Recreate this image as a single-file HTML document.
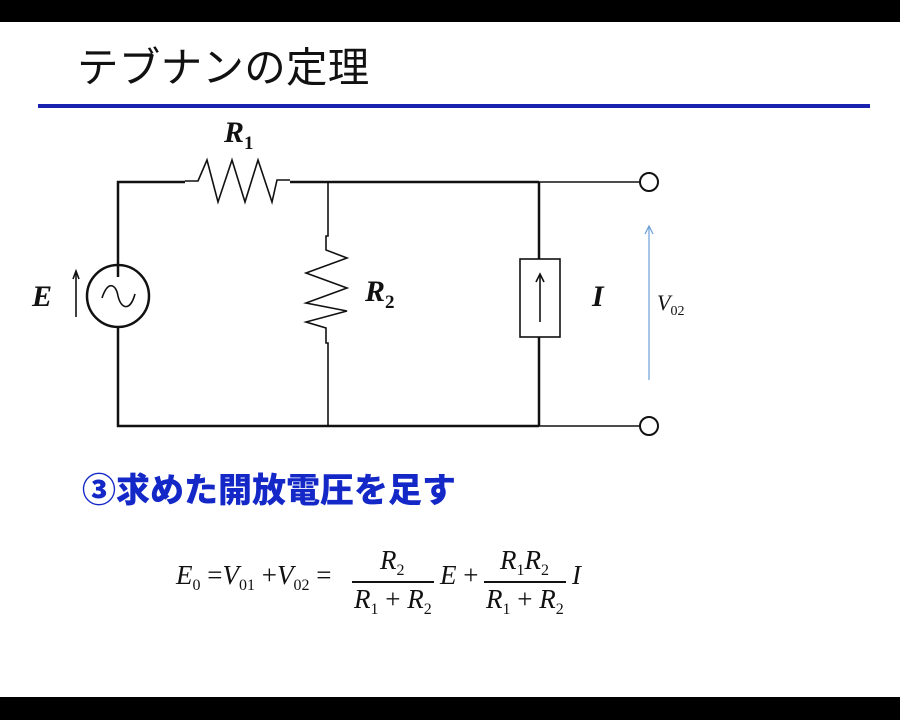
<!DOCTYPE html>
<html><head><meta charset="utf-8"><style>
body{margin:0;width:900px;height:720px;background:#fff;overflow:hidden;position:relative}
.t{position:absolute;font-family:"Liberation Serif",serif;font-style:italic;color:#111}
.s{font-size:16px;font-style:normal;vertical-align:-6px}
</style></head><body>
<div style="position:absolute;left:0;top:0;width:900px;height:22px;background:#000"></div>
<div style="position:absolute;left:0;top:697px;width:900px;height:23px;background:#000"></div>
<div style="position:absolute;left:77px;top:44px;font:41.5px 'Noto Sans CJK JP',sans-serif;color:#111;line-height:1;letter-spacing:0.3px">テブナンの定理</div>
<div style="position:absolute;left:38px;top:104px;width:832px;height:4px;background:#1a22b0"></div>
<svg style="position:absolute;left:0;top:0" width="900" height="720">
<g fill="none" stroke="#111" stroke-width="2.5">
<polyline points="118,277 118,182 185,182"/>
<polyline points="118,327 118,426 539,426"/>
<polyline points="290,182 539,182"/>
<polyline points="539,182 539,259"/>
<polyline points="539,337 539,426"/>
<circle cx="118" cy="296" r="31"/>
</g>
<g fill="none" stroke="#111" stroke-width="1.6">
<polyline points="185,181 198,181 207,160 218,202 232,160 245,202 258,160 272,202 277,180 290,180"/>
<polyline points="328,182 328,236 326,236 326,250 347,258 306,273 347,288 306,303 347,311 306,322 326,328 326,343 328,343 328,426"/>
<rect x="520" y="259" width="40" height="78"/>
<line x1="540" y1="322" x2="540" y2="275"/><polyline points="536,282 540,274 544,282"/>
<line x1="539" y1="182" x2="640" y2="182"/><line x1="539" y1="426" x2="640" y2="426"/>
<circle cx="649" cy="182" r="9" stroke-width="2"/><circle cx="649" cy="426" r="9" stroke-width="2"/>
<path d="M102,298 C108,280 116,284 118,296 C121,309 130,312 135,294"/>
<line x1="76" y1="317" x2="76" y2="272"/><polyline points="73,279 76,271 79,279"/>
</g>
<g stroke="#6aa0d8" stroke-width="1.2" fill="none"><line x1="649" y1="380" x2="649" y2="226"/><polyline points="645,234 649,226 653,234"/></g>
</svg>
<div class="t" style="left:224px;top:116px;font-size:30px;font-weight:bold">R<sub style="font-size:19px;font-style:normal">1</sub></div>
<div class="t" style="left:365px;top:275px;font-size:30px;font-weight:bold">R<sub style="font-size:19px;font-style:normal">2</sub></div>
<div class="t" style="left:32px;top:280px;font-size:30px;font-weight:bold">E</div>
<div class="t" style="left:592px;top:280px;font-size:30px;font-weight:bold">I</div>
<div class="t" style="left:657px;top:290px;font-size:22px">V<span style="font-size:14px;font-style:normal;vertical-align:-5px">02</span></div>
<div style="position:absolute;left:82px;top:469px;font:900 34px 'Noto Sans CJK JP',sans-serif;color:#1428c8;line-height:1.1">③求めた開放電圧を足す</div>
<div class="t" style="left:176px;top:560px;font-size:27px;white-space:nowrap">E<span class="s">0</span> <span style="font-style:normal">=</span>V<span class="s">01</span> <span style="font-style:normal">+</span>V<span class="s">02</span> <span style="font-style:normal">=</span></div>
<div class="t" style="left:380px;top:545px;font-size:27px">R<span class="s">2</span></div>
<div style="position:absolute;left:352px;top:581px;width:82px;height:2px;background:#111"></div>
<div class="t" style="left:354px;top:584px;font-size:27px;white-space:nowrap">R<span class="s">1</span> <span style="font-style:normal">+</span> R<span class="s">2</span></div>
<div class="t" style="left:440px;top:560px;font-size:27px;white-space:nowrap">E <span style="font-style:normal">+</span></div>
<div class="t" style="left:500px;top:545px;font-size:27px;white-space:nowrap">R<span class="s">1</span>R<span class="s">2</span></div>
<div style="position:absolute;left:484px;top:581px;width:82px;height:2px;background:#111"></div>
<div class="t" style="left:486px;top:584px;font-size:27px;white-space:nowrap">R<span class="s">1</span> <span style="font-style:normal">+</span> R<span class="s">2</span></div>
<div class="t" style="left:572px;top:560px;font-size:27px">I</div>
</body></html>
